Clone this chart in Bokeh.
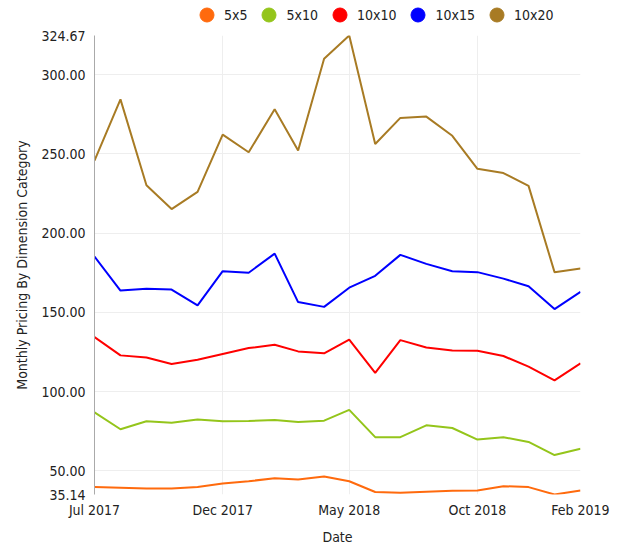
from datetime import datetime
from bokeh.plotting import figure
from bokeh.layouts import column
from bokeh.models import (ColumnDataSource, Legend, LegendItem, FixedTicker,
                          CustomJSTickFormatter, DatetimeTickFormatter)
from bokeh.embed import file_html
from bokeh.resources import INLINE

dates = ["2017-07", "2017-08", "2017-09", "2017-10", "2017-11", "2017-12",
         "2018-01", "2018-02", "2018-03", "2018-04", "2018-05", "2018-06",
         "2018-07", "2018-08", "2018-09", "2018-10", "2018-11", "2018-12",
         "2019-01", "2019-02"]

s5x5 = [39.8, 39.4, 39.0, 39.0, 39.8, 42.1, 43.5, 45.4, 44.6, 46.5,
        43.5, 36.7, 36.3, 36.9, 37.5, 37.7, 40.4, 39.8, 35.14, 37.7]
s5x10 = [86.9, 76.3, 81.3, 80.4, 82.5, 81.3, 81.5, 82.1, 80.8, 81.7,
         88.5, 71.3, 71.3, 78.8, 77.1, 69.8, 71.3, 68.3, 60.0, 64.0]
s10x10 = [134.4, 122.9, 121.5, 117.5, 120.2, 123.8, 127.5, 129.6, 125.4, 124.2,
          132.9, 111.9, 132.5, 127.9, 126.0, 125.8, 122.5, 115.8, 107.1, 117.9]
s10x15 = [185.2, 163.8, 165.0, 164.4, 154.4, 176.0, 175.0, 187.1, 156.5, 153.5,
          165.6, 173.1, 186.3, 180.6, 176.0, 175.4, 171.3, 166.5, 152.1, 162.9]
s10x20 = [245.8, 284.4, 230.2, 215.2, 226.0, 262.1, 251.0, 278.1, 252.1, 310.0,
          324.67, 256.2, 272.7, 273.5, 261.4, 240.6, 237.9, 229.8, 175.4, 177.7]

series_names = ["5x5", "5x10", "10x10", "10x15", "10x20"]
series_values = [s5x5, s5x10, s10x10, s10x15, s10x20]
colors = ["#ff6a0d", "#94c51b", "#ff0000", "#0000ff", "#a87b24"]

y_ticks = [35.14, 50, 100, 150, 200, 250, 300, 324.67]
y_grid = [50, 100, 150, 200, 250, 300]
x_tick_dates = ["2017-07", "2017-12", "2018-05", "2018-10", "2019-02"]

FONT = "DejaVu Sans Condensed"

xs = [datetime.strptime(d, "%Y-%m") for d in dates]
xt = [datetime.strptime(d, "%Y-%m").timestamp() * 1000 for d in x_tick_dates]

# ---- legend strip (separate small figure above the chart) ----
lg = figure(width=620, height=24, output_backend="svg", toolbar_location=None,
            x_range=(0, 1), y_range=(0, 1),
            x_axis_location=None, y_axis_location=None,
            min_border=0, outline_line_color=None)
lg.grid.visible = False

# ---- main chart ----
p = figure(width=620, height=528, x_axis_type="datetime",
           output_backend="svg", toolbar_location=None,
           x_range=(xs[0], xs[-1]), y_range=(min(y_ticks), max(y_ticks)))

items = []
for name, vals, c in zip(series_names, series_values, colors):
    src = ColumnDataSource(dict(x=xs, y=vals))
    p.line("x", "y", source=src, line_color=c, line_width=2)
    dot = lg.scatter(x=[0.5], y=[0.5], size=14, marker="circle",
                     fill_color=c, line_color=c, visible=False)
    items.append(LegendItem(label=name, renderers=[dot]))

legend = Legend(items=items, orientation="horizontal", location=(95, -8),
                glyph_width=35, glyph_height=35, label_standoff=-6,
                spacing=4, padding=0, margin=0, border_line_color=None,
                background_fill_alpha=0, label_text_font=FONT,
                label_text_font_size="14px", label_text_color="#222222")
lg.add_layout(legend, "center")

p.outline_line_color = None
p.min_border_left = 94
p.min_border_right = 40
p.min_border_top = 11
p.min_border_bottom = 58

p.xaxis.ticker = FixedTicker(ticks=xt)
p.xaxis.formatter = DatetimeTickFormatter(months="%b %Y", days="%b %Y",
                                          years="%b %Y")
p.xgrid.ticker = FixedTicker(ticks=xt)
p.yaxis.ticker = FixedTicker(ticks=y_ticks)
p.yaxis.formatter = CustomJSTickFormatter(code="return tick.toFixed(2);")
p.ygrid.ticker = FixedTicker(ticks=y_grid)

for ax in (p.xaxis, p.yaxis):
    ax.major_tick_line_color = None
    ax.minor_tick_line_color = None
    ax.major_label_text_font = FONT
    ax.major_label_text_font_size = "14px"
    ax.major_label_text_color = "#222222"
    ax.axis_label_text_font = FONT
    ax.axis_label_text_font_size = "14px"
    ax.axis_label_text_font_style = "normal"
    ax.axis_label_text_color = "#222222"

p.xaxis.axis_line_color = None
p.yaxis.axis_line_color = "#aaaaaa"
p.xaxis.axis_label = "Date"
p.yaxis.axis_label = "Monthly Pricing By Dimension Category"
p.xaxis.major_label_standoff = 1
p.xaxis.axis_label_standoff = 8
p.yaxis.major_label_standoff = 3
p.yaxis.axis_label_standoff = 8

p.xgrid.grid_line_color = "#eeeeee"
p.ygrid.grid_line_color = "#eeeeee"

layout = column(lg, p, spacing=0)
open("out.html", "w").write(file_html(layout, INLINE))
